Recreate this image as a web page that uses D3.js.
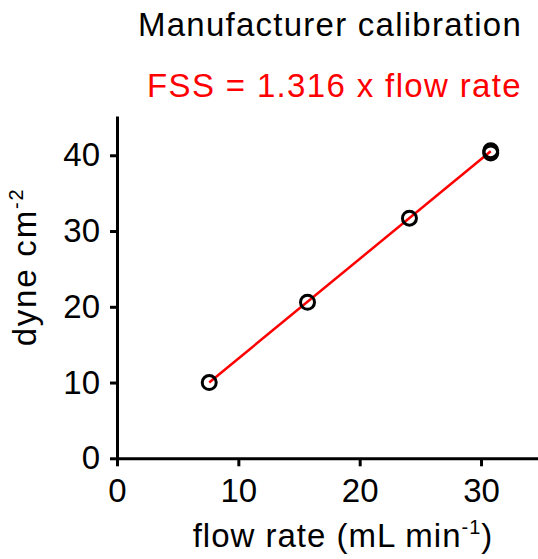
<!DOCTYPE html>
<meta charset="utf-8">
<style>
body{ margin:0; background:#fff; }
text{ font-family: "Liberation Sans", Arial, sans-serif; }
.axis path, .axis line{ stroke:#000; stroke-width:3px; }
.axis text{ font-size:33px; fill:#000; }
.lbl{ font-size:33px; }
</style>
<body>
<script src="https://d3js.org/d3.v7.min.js"></script>
<script>

var flowRate = [7.6, 15.7, 24.1, 30.8, 30.8];
var fss      = [10.0, 20.6, 31.7, 40.3, 40.6];
var fitX     = [7.6, 30.8];
var slope    = 1.316;
var xTicks   = [0, 10, 20, 30];
var yTicks   = [0, 10, 20, 30, 40];

var w = 538, h = 559;
var svg = d3.select("body").append("svg").attr("width", w).attr("height", h);

var x = d3.scaleLinear().domain([0, 35]).range([117, 541.7]);
var y = d3.scaleLinear().domain([0, 45]).range([458.3, 117.4]);

svg.append("g").attr("class","axis")
  .attr("transform","translate(0,458.3)")
  .call(d3.axisBottom(x).tickValues(xTicks).tickSize(8).tickSizeOuter(0).tickPadding(12));

svg.append("g").attr("class","axis")
  .attr("transform","translate(117,0)")
  .call(d3.axisLeft(y).tickValues(yTicks).tickSize(7).tickSizeOuter(0).tickPadding(10));

svg.selectAll(".axis .domain").attr("stroke-linecap","square");

// fitted line
svg.append("line")
  .attr("x1", x(fitX[0])).attr("y1", y(fitX[0]*slope))
  .attr("x2", x(fitX[1])).attr("y2", y(fitX[1]*slope))
  .attr("stroke","#ff0000").attr("stroke-width",2.5);

svg.selectAll("circle.pt").data(flowRate).enter().append("circle")
  .attr("class","pt")
  .attr("cx", d=>x(d))
  .attr("cy", (d,i)=>y(fss[i]))
  .attr("r", 7)
  .attr("fill","none")
  .attr("stroke","#000")
  .attr("stroke-width",3);

// titles
svg.append("text").attr("class","lbl").attr("x",522).attr("y",36).attr("text-anchor","end")
  .style("letter-spacing","1.25px").text("Manufacturer calibration");
svg.append("text").attr("class","lbl").attr("x",522).attr("y",97).attr("text-anchor","end")
  .style("letter-spacing","1.35px").attr("fill","#ff0000").text("FSS = 1.316 x flow rate");

// axis labels
var xl = svg.append("text").attr("class","lbl").attr("x",343).attr("y",547)
  .attr("text-anchor","middle").style("letter-spacing","1px");
xl.append("tspan").text("flow rate (mL min");
xl.append("tspan").attr("dy",-13).style("font-size","20px").text("-1");
xl.append("tspan").attr("dy",13).text(")");

var yl = svg.append("text").attr("class","lbl").attr("transform","translate(36,267) rotate(-90)")
  .attr("text-anchor","middle").style("letter-spacing","1.8px");
yl.append("tspan").text("dyne cm");
yl.append("tspan").attr("dy",-13).style("font-size","20px").text("-2");

</script>
</body>
